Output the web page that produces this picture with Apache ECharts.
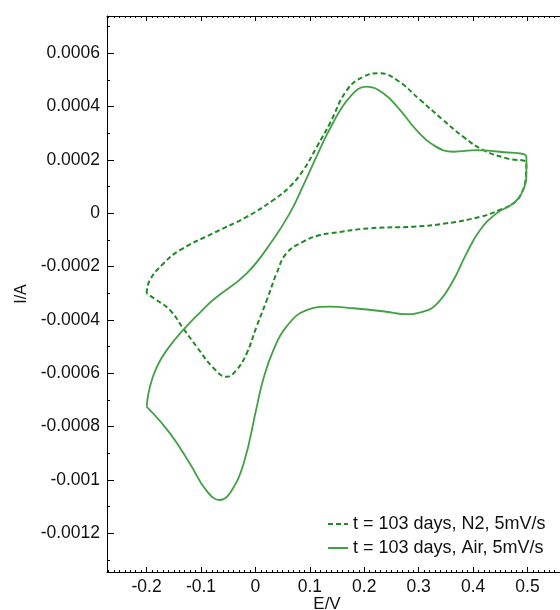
<!DOCTYPE html>
<html>
<head>
<meta charset="utf-8">
<script src="https://cdn.jsdelivr.net/npm/echarts@6/dist/echarts.min.js"></script>
<style>
  html, body { margin: 0; padding: 0; background: #fff; }
  #chart { width: 560px; height: 610px; }
</style>
</head>
<body>
<div id="chart"></div>
<script>
// Cyclic voltammograms after 103 days: potential E (V) vs current I (A)
const seriesNames = ['t = 103 days, N2, 5mV/s', 't = 103 days, Air, 5mV/s'];

// N2 scan: forward (anodic) sweep followed by reverse (cathodic) sweep
const n2E = [
  -0.2, -0.194, -0.169, -0.139, -0.078, -0.016, 0.033, 0.063, 0.088, 0.113,
  0.137, 0.168, 0.198, 0.229, 0.26, 0.303, 0.345, 0.382, 0.419, 0.462, 0.498,
  0.497, 0.489, 0.474, 0.449, 0.413, 0.351, 0.29, 0.21, 0.137, 0.119, 0.088,
  0.057, 0.039, 0.021, 0.002, -0.016, -0.035, -0.053, -0.078, -0.108, -0.133,
  -0.157, -0.182, -0.2
];
const n2I = [
  -0.0003, -0.00025, -0.000188, -0.000138, -0.000075, -0.000013, 0.00005, 0.0001, 0.000162, 0.00025,
  0.000338, 0.000462, 0.000512, 0.000525, 0.0005, 0.000425, 0.00035, 0.000287, 0.000237, 0.000206, 0.000187,
  0.000137, 0.000075, 0.0000375, 0.0000125, -0.000013, -0.0000375, -0.00005, -0.000056, -0.000075, -0.000081, -0.000106,
  -0.00015, -0.000225, -0.000325, -0.000425, -0.000525, -0.000588, -0.000613, -0.000578, -0.0005, -0.000431,
  -0.000363, -0.000325, -0.0003
];

// Air scan: forward (anodic) sweep followed by reverse (cathodic) sweep
const airE = [
  -0.2, -0.194, -0.181, -0.163, -0.133, -0.102, -0.078, -0.016, 0.032,
  0.063, 0.087, 0.112, 0.142, 0.174, 0.204, 0.235, 0.266, 0.296, 0.327,
  0.364, 0.407, 0.449, 0.498,
  0.498, 0.492, 0.474, 0.443, 0.413, 0.388, 0.364, 0.337, 0.31, 0.272, 0.241,
  0.18, 0.137, 0.094, 0.057, 0.033, 0.014, 0.002, -0.022, -0.047, -0.065,
  -0.09, -0.12, -0.157, -0.2
];
const airI = [
  -0.000725, -0.00065, -0.000575, -0.000513, -0.000438, -0.000372, -0.000325, -0.000225, -0.0001,
  0.0, 0.0001, 0.000212, 0.000337, 0.000437, 0.000475, 0.00045, 0.000387, 0.000312, 0.000256,
  0.000231, 0.000237, 0.000231, 0.000212,
  0.00015, 0.0000875, 0.0000375, 0.0, -0.0000625, -0.00015, -0.00025, -0.000332, -0.000368, -0.000378, -0.000369,
  -0.000356, -0.00035, -0.000363, -0.000425, -0.000513, -0.000625, -0.00073, -0.00094, -0.00105, -0.001075,
  -0.00104, -0.00094, -0.000825, -0.000725
];

const xTitle = 'E/V';
const yTitle = 'I/A';

const pairs = (xs, ys) => xs.map((x, i) => [x, ys[i]]);

const font = 'Liberation Sans, Arial, sans-serif';
const axisColor = '#000';

function xAxisCommon(pos, showLabels) {
  return {
    type: 'value',
    position: pos,
    min: -0.2728,
    max: 0.58,
    splitNumber: 9,
    axisLine: { show: true, onZero: false, lineStyle: { color: axisColor, width: 1 } },
    axisTick: { show: true, inside: true, length: 5, lineStyle: { color: axisColor } },
    minorTick: { show: true, splitNumber: 10, length: 2, lineStyle: { color: axisColor } },
    splitLine: { show: false },
    axisLabel: {
      show: showLabels, color: '#111', fontSize: 17.5, fontFamily: font, margin: 6,
      showMinLabel: false, showMaxLabel: false
    }
  };
}

const chart = echarts.init(document.getElementById('chart'), null, { renderer: 'canvas' });
chart.setOption({
  animation: false,
  backgroundColor: '#fff',
  grid: {
    left: 107, top: 16, right: -11, bottom: 38,
    containLabel: false, outerBoundsMode: 'none'
  },
  xAxis: [xAxisCommon('bottom', true), xAxisCommon('top', false)],
  yAxis: {
    type: 'value',
    min: -0.001345,
    max: 0.00074,
    splitNumber: 10,
    name: yTitle,
    nameLocation: 'middle',
    nameGap: 76,
    nameTextStyle: { color: '#111', fontSize: 16, fontFamily: font },
    axisLine: { show: true, onZero: false, lineStyle: { color: axisColor, width: 1 } },
    axisTick: { show: true, inside: true, length: 7, lineStyle: { color: axisColor } },
    minorTick: { show: true, splitNumber: 2, length: 3, lineStyle: { color: axisColor } },
    splitLine: { show: false },
    axisLabel: {
      color: '#111', fontSize: 17.5, fontFamily: font, margin: 7,
      showMinLabel: false, showMaxLabel: false
    }
  },
  // x-axis title sits just under the tick labels, slightly left of the plot centre
  graphic: [{
    type: 'text',
    x: 327,
    y: 604,
    style: {
      text: xTitle,
      align: 'center',
      verticalAlign: 'middle',
      fill: '#111',
      font: '17px Liberation Sans, Arial, sans-serif'
    }
  }],
  legend: {
    orient: 'vertical',
    left: 322,
    top: 510,
    itemWidth: 20,
    itemHeight: 10,
    itemGap: 6,
    itemStyle: { opacity: 0 },
    textStyle: { color: '#111', fontSize: 18, fontFamily: font },
    data: seriesNames
  },
  series: [
    {
      name: seriesNames[0],
      type: 'line',
      data: pairs(n2E, n2I),
      showSymbol: false,
      symbol: 'none',
      smooth: 0.45,
      lineStyle: { color: '#1f8a24', width: 2, type: [5, 3] },
      itemStyle: { color: '#1f8a24' }
    },
    {
      name: seriesNames[1],
      type: 'line',
      data: pairs(airE, airI),
      showSymbol: false,
      symbol: 'none',
      smooth: 0.45,
      lineStyle: { color: '#43a047', width: 1.8, type: 'solid' },
      itemStyle: { color: '#43a047' }
    }
  ]
});
</script>
</body>
</html>
